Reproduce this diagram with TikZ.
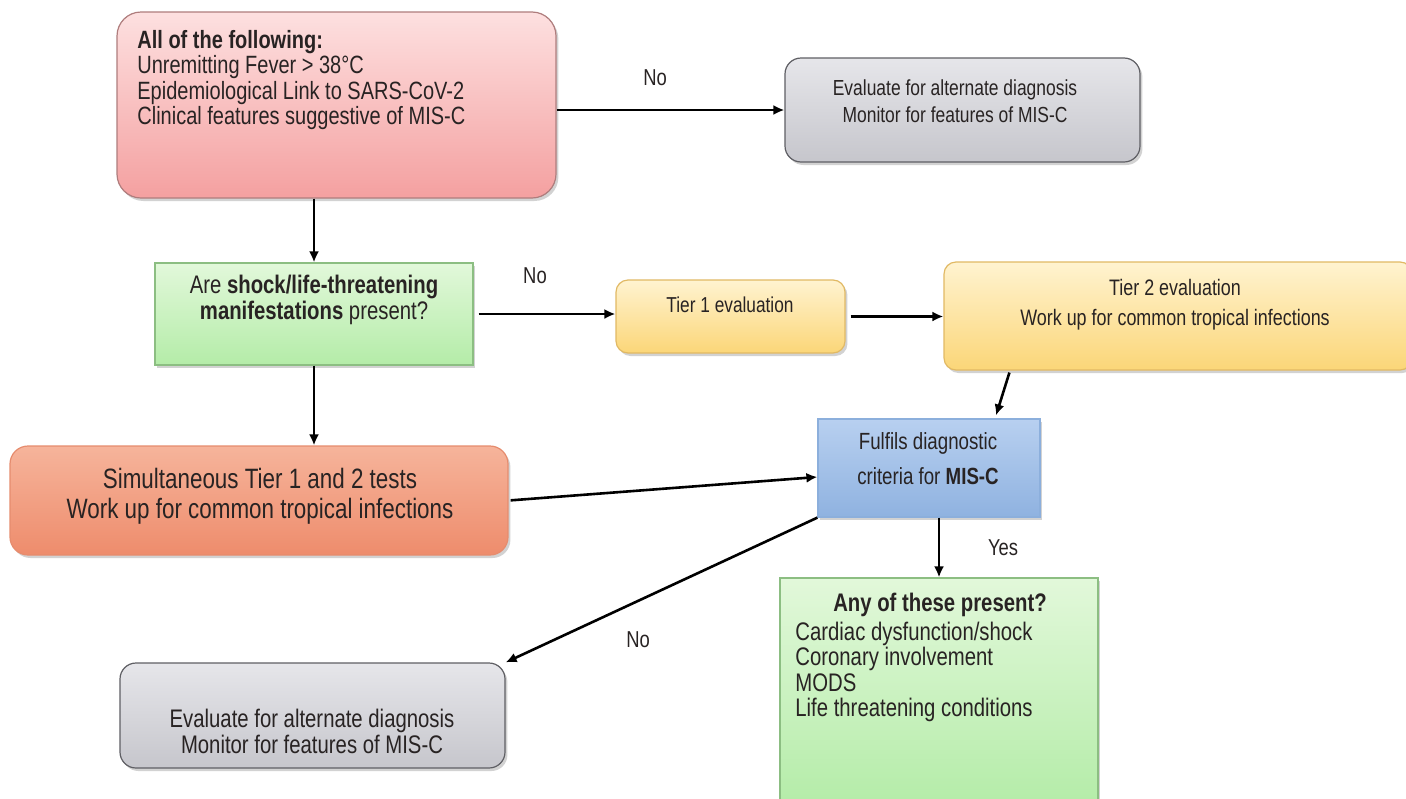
\documentclass[tikz,border=0pt]{standalone}
\usepackage{fontspec}
\setmainfont{Liberation Sans}[FakeStretch=0.8]
\usetikzlibrary{arrows.meta,fit,calc,shadows}
\definecolor{txt}{RGB}{40,35,35}
\tikzset{
  box/.style={inner sep=0pt, line width=0.6pt, drop shadow={shadow xshift=1.2pt, shadow yshift=-1.5pt, opacity=0.35}},
  redbox/.style={box, rounded corners=12pt, draw={rgb,255:red,175;green,125;blue,125}, top color={rgb,255:red,253;green,224;blue,224}, bottom color={rgb,255:red,244;green,160;blue,160}},
  graybox/.style={box, rounded corners=8pt, draw={rgb,255:red,95;green,95;blue,100}, top color={rgb,255:red,230;green,230;blue,234}, bottom color={rgb,255:red,198;green,198;blue,204}},
  greenbox/.style={box, draw={rgb,255:red,140;green,190;blue,130}, top color={rgb,255:red,226;green,248;blue,218}, bottom color={rgb,255:red,180;green,236;blue,168}},
  tierbox/.style={box, rounded corners=6pt, draw={rgb,255:red,225;green,185;blue,100}, top color={rgb,255:red,255;green,243;blue,208}, bottom color={rgb,255:red,251;green,214;blue,120}},
  bluebox/.style={box, draw={rgb,255:red,140;green,175;blue,220}, top color={rgb,255:red,184;green,208;blue,240}, bottom color={rgb,255:red,143;green,178;blue,224}},
  orangebox/.style={box, rounded corners=9pt, draw={rgb,255:red,230;green,140;blue,110}, top color={rgb,255:red,246;green,180;blue,155}, bottom color={rgb,255:red,238;green,140;blue,108}},
  lbl/.style={inner sep=0pt, text=txt},
  arr/.style={line width=1.3pt, -{Latex[length=5.5pt,width=5pt]}},
}
\begin{document}
\begin{tikzpicture}[x=0.5pt,y=-0.5pt]
\useasboundingbox[fill=white] (0,0) rectangle (1406,798);
% boxes
\node[redbox, fit={(117,12) (556,198)}] (red) {};
\node[graybox, fit={(785,58) (1140,162)}] (gray1) {};
\node[greenbox, fit={(155,263) (473,365)}] (green1) {};
\node[tierbox, fit={(616,280) (845,353)}] (tier1) {};
\node[tierbox, fit={(944,262) (1412,370)}] (tier2) {};
\node[bluebox, fit={(818,419) (1040,517)}] (blue) {};
\node[orangebox, fit={(10,446) (508,555)}] (orange) {};
\node[greenbox, fit={(780,578) (1098,806)}] (green2) {};
\node[graybox, fit={(120,663) (505,768)}] (gray2) {};
% texts
\node[lbl, anchor=west, align=left, font=\fontsize{12.5}{12.8}\selectfont] (tred) at (137,80)
  {\textbf{All of the following:}\\Unremitting Fever > 38°C\\Epidemiological Link to SARS-CoV-2\\Clinical features suggestive of MIS-C};
\node[lbl, align=center, font=\fontsize{10.9}{13.5}\selectfont] (tgray1) at (955,101)
  {Evaluate for alternate diagnosis\\Monitor for features of MIS-C};
\node[lbl, align=center, font=\fontsize{12.7}{13}\selectfont] (tgreen1) at (314,300)
  {Are \textbf{shock/life-threatening}\\\textbf{manifestations} present?};
\node[lbl, font=\fontsize{10.8}{12}\selectfont] (ttier1) at (730,305) {Tier 1 evaluation};
\node[lbl, align=center, font=\fontsize{11.2}{15}\selectfont] (ttier2) at (1175,305)
  {Tier 2 evaluation\\Work up for common tropical infections};
\node[lbl, align=center, font=\fontsize{11.7}{17.5}\selectfont] (tblue) at (928,459)
  {Fulfils diagnostic\\criteria for \textbf{MIS-C}};
\node[lbl, align=center, font=\fontsize{14}{15}\selectfont] (torange) at (260,496)
  {Simultaneous Tier 1 and 2 tests\\Work up for common tropical infections};
\node[lbl, align=center, font=\fontsize{12.7}{13}\selectfont] (tgray2) at (312,731)
  {Evaluate for alternate diagnosis\\Monitor for features of MIS-C};
\node[lbl, font=\fontsize{12.7}{13}\selectfont\bfseries] (tgreen2a) at (940,605) {Any of these present?};
\node[lbl, anchor=west, align=left, font=\fontsize{12.7}{12.8}\selectfont] (tgreen2b) at (795,672)
  {Cardiac dysfunction/shock\\Coronary involvement\\MODS\\Life threatening conditions};
% edge labels
\node[lbl, font=\fontsize{11.5}{12}\selectfont] (no1) at (655,78) {No};
\node[lbl, font=\fontsize{11.5}{12}\selectfont] (no2) at (535,276) {No};
\node[lbl, font=\fontsize{11.5}{12}\selectfont] (yes) at (1003,548) {Yes};
\node[lbl, font=\fontsize{11.5}{12}\selectfont] (no3) at (638,640) {No};
% connectors
\draw[arr] (red.east |- gray1.west) -- (gray1.west);
\draw[arr] (green1.north |- red.south) -- (green1.north);
\draw[arr, shorten <=2.5pt] (green1.east) -- (green1.east -| tier1.west);
\draw[arr, shorten <=2.5pt] (tier1.east) -- (tier1.east -| tier2.west);
\draw[arr] ($(tier2.south west)+(66,2)$) -- ($(blue.north)+(67,-3)$);
\draw[arr] (green1.south) -- (green1.south |- orange.north);
\draw[arr, shorten <=1pt] (orange.east) -- ($(blue.west)+(0,9)$);
\draw[arr] (blue.south -| green2.north) -- (green2.north);
\draw[arr] (blue.south west) -- (gray2.north east);
\end{tikzpicture}
\end{document}
